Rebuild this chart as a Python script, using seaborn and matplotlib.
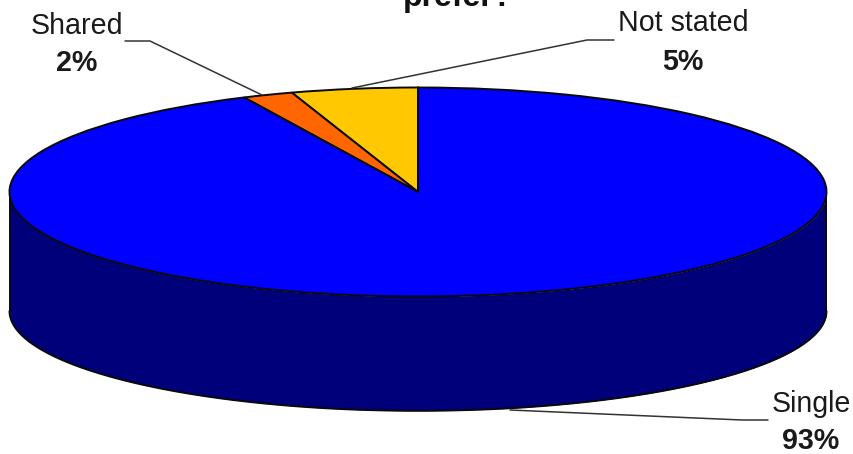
import numpy as np
import matplotlib
matplotlib.use("Agg")
import matplotlib.pyplot as plt
import seaborn as sns

# Survey answers, in pie order going counter-clockwise from twelve o'clock
categories = ["Not stated", "Shared", "Single"]
shares = [5, 2, 93]
top_colors = ["#FFC800", "#FF6600", "#0000FF"]
side_color = "#00007A"

sns.set_theme(style="white")
plt.rcParams["font.family"] = ["Liberation Sans", "DejaVu Sans"]

WIDTH, HEIGHT = 854, 454
CX, CY, RX, RY = 418, 192, 408.5, 104.5
DEPTH = 119 / RY
BOTTOM_SQUASH = 0.955
FONT = 20.6
INK = "#1a1a1a"

fig = plt.figure(figsize=(WIDTH / 100, HEIGHT / 100), dpi=100, facecolor="white")

# The pie lives in an unequal-aspect axes, which flattens the disc into an ellipse
ax = fig.add_axes([0, 0, 1, 1])
wedges, _ = ax.pie(
    shares,
    colors=top_colors,
    startangle=90,
    counterclock=True,
    radius=1,
    wedgeprops={"edgecolor": "#0a0a0a", "linewidth": 1.4, "zorder": 3},
)
ax.set_aspect("auto")
ax.set_xlim(-CX / RX, (WIDTH - CX) / RX)
ax.set_ylim((CY - HEIGHT) / RY, CY / RY)
ax.axis("off")

# Visible rim of the disc: the lower half of the ellipse, pushed down by the depth
t = np.linspace(np.pi, 2 * np.pi, 300)
rim_x, rim_y = np.cos(t), np.sin(t)
floor_y = BOTTOM_SQUASH * rim_y - DEPTH
ax.fill_between(rim_x, floor_y, rim_y, color=side_color, linewidth=0, zorder=1)
ax.plot(rim_x, floor_y, color="#0a0a0a", lw=1.4, zorder=2)
ax.plot([-1, -1], [0, -DEPTH], color="#0a0a0a", lw=1.4, zorder=2)
ax.plot([1, 1], [0, -DEPTH], color="#0a0a0a", lw=1.4, zorder=2)


def to_data(px, py):
    return (px - CX) / RX, (CY - py) / RY


def leader(points):
    xy = np.array([to_data(*p) for p in points])
    ax.plot(xy[:, 0], xy[:, 1], color="#333333", lw=1.1, zorder=4, clip_on=False)


def label(name, value, px, name_y, value_y):
    ax.text(*to_data(px, name_y), name, ha="center", va="center",
            fontsize=FONT, color=INK)
    ax.text(*to_data(px, value_y), f"{value}%", ha="center", va="center",
            fontsize=FONT, color=INK, fontweight="bold")


leader([(125, 41), (150, 41), (262, 95)])
leader([(614, 40), (587, 40), (352, 88)])
leader([(768, 420), (742, 420), (510, 410)])

label(categories[1], shares[1], 77, 26, 63)
label(categories[0], shares[0], 683, 23, 62)
label(categories[2], shares[2], 811, 404, 441)

# The chart heading runs off the top edge; only its last line shows
ax.text(*to_data(458, 6), "prefer?", ha="center", va="baseline",
        fontsize=23, color="#111111", fontweight="bold")

fig.savefig("out.png", dpi=100, facecolor="white")
